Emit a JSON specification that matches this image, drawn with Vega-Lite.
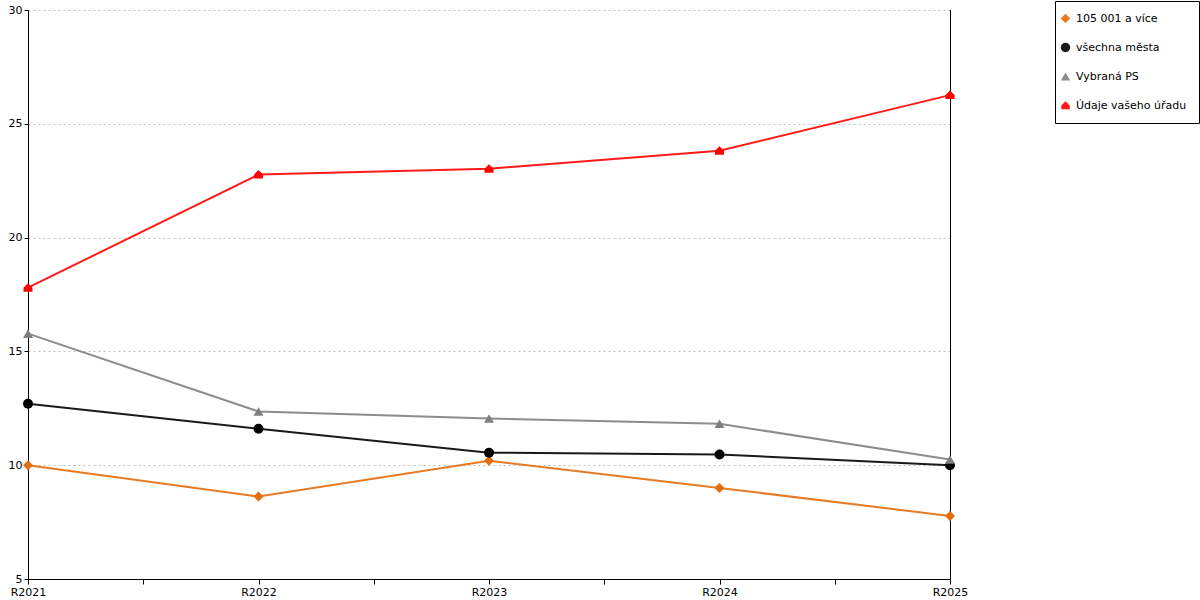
{
  "$schema": "https://vega.github.io/schema/vega-lite/v6.json",
  "width": 922,
  "height": 569,
  "autosize": "none",
  "padding": {"left": 28, "top": 10, "right": 250, "bottom": 21},
  "background": "white",
  "data": {
    "values": [
      {"rada": "105 001 a více", "rok": 2021, "hodnota": 10.0},
      {"rada": "105 001 a více", "rok": 2022, "hodnota": 8.62},
      {"rada": "105 001 a více", "rok": 2023, "hodnota": 10.2},
      {"rada": "105 001 a více", "rok": 2024, "hodnota": 9.0},
      {"rada": "105 001 a více", "rok": 2025, "hodnota": 7.77},
      {"rada": "všechna města", "rok": 2021, "hodnota": 12.7},
      {"rada": "všechna města", "rok": 2022, "hodnota": 11.6},
      {"rada": "všechna města", "rok": 2023, "hodnota": 10.55},
      {"rada": "všechna města", "rok": 2024, "hodnota": 10.47},
      {"rada": "všechna města", "rok": 2025, "hodnota": 10.0},
      {"rada": "Vybraná PS", "rok": 2021, "hodnota": 15.78},
      {"rada": "Vybraná PS", "rok": 2022, "hodnota": 12.36},
      {"rada": "Vybraná PS", "rok": 2023, "hodnota": 12.05},
      {"rada": "Vybraná PS", "rok": 2024, "hodnota": 11.82},
      {"rada": "Vybraná PS", "rok": 2025, "hodnota": 10.25},
      {"rada": "Údaje vašeho úřadu", "rok": 2021, "hodnota": 17.8},
      {"rada": "Údaje vašeho úřadu", "rok": 2022, "hodnota": 22.77},
      {"rada": "Údaje vašeho úřadu", "rok": 2023, "hodnota": 23.03},
      {"rada": "Údaje vašeho úřadu", "rok": 2024, "hodnota": 23.82},
      {"rada": "Údaje vašeho úřadu", "rok": 2025, "hodnota": 26.26}
    ]
  },
  "encoding": {
    "x": {
      "field": "rok",
      "type": "quantitative",
      "scale": {"domain": [2021, 2025], "nice": false, "zero": false},
      "axis": {
        "title": null,
        "grid": false,
        "values": [2021, 2021.5, 2022, 2022.5, 2023, 2023.5, 2024, 2024.5, 2025],
        "labelExpr": "datum.value % 1 == 0 ? 'R' + datum.value : ''",
        "labelFlush": false,
        "labelOverlap": false
      }
    },
    "y": {
      "field": "hodnota",
      "type": "quantitative",
      "scale": {"domain": [5, 30], "nice": false, "zero": false},
      "axis": {
        "title": null,
        "values": [5, 10, 15, 20, 25, 30],
        "grid": true,
        "gridColor": "#c0c0c0",
        "gridDash": [2, 3],
        "tickSize": 4
      }
    },
    "color": {
      "field": "rada",
      "type": "nominal",
      "sort": ["105 001 a více", "všechna města", "Vybraná PS", "Údaje vašeho úřadu"],
      "scale": {
        "domain": ["105 001 a více", "všechna města", "Vybraná PS", "Údaje vašeho úřadu"],
        "range": ["#e46c0a", "#000000", "#808080", "#ff0000"]
      },
      "title": null
    }
  },
  "layer": [
    {
      "mark": {"type": "rule", "color": "black", "strokeWidth": 1, "xOffset": 0.5},
      "encoding": {"x": {"datum": 2025}, "y": null, "color": null}
    },
    {
      "mark": {"type": "line", "strokeWidth": 2, "opacity": 0.9}
    },
    {
      "mark": {"type": "point", "filled": true, "opacity": 1, "size": 100},
      "encoding": {
        "shape": {
          "field": "rada",
          "type": "nominal",
          "title": null,
          "sort": ["105 001 a více", "všechna města", "Vybraná PS", "Údaje vašeho úřadu"],
          "scale": {
            "domain": ["105 001 a více", "všechna města", "Vybraná PS", "Údaje vašeho úřadu"],
            "range": ["diamond", "circle", "triangle-up", "M-0.9,0.8L-0.9,0L0,-0.9L0.9,0L0.9,0.8Z"]
          }
        }
      }
    }
  ],
  "config": {
    "font": "DejaVu Sans",
    "view": {"stroke": null},
    "axis": {
      "domainColor": "black",
      "tickColor": "black",
      "labelColor": "black",
      "labelFontSize": 11,
      "labelFont": "DejaVu Sans",
      "tickSize": 5,
      "labelPadding": 2
    },
    "legend": {
      "orient": "none",
      "legendX": 1027,
      "legendY": -9,
      "strokeColor": "black",
      "fillColor": "white",
      "padding": 12,
      "symbolOffset": -7,
      "labelFontSize": 11,
      "labelColor": "black",
      "labelFont": "DejaVu Sans",
      "symbolSize": 90,
      "rowPadding": 17,
      "labelOffset": 5,
      "symbolStrokeWidth": 0
    }
  }
}
